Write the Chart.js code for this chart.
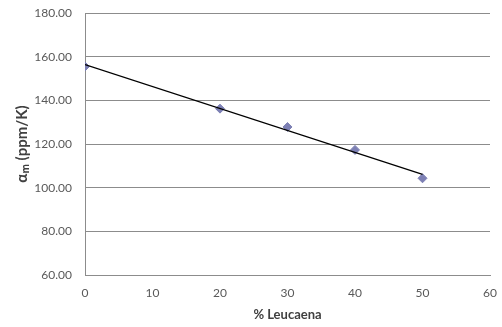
<!DOCTYPE html>
<html><head><meta charset="utf-8">
<script src="https://cdn.jsdelivr.net/npm/chart.js@4/dist/chart.umd.min.js"></script>
<style>html,body{margin:0;padding:0;background:#fff}#wrap{width:502px;height:327px}</style>
</head><body><div id="wrap"><canvas id="c" width="502" height="327"></canvas></div>
<script>
const leucaena = [0, 20, 30, 40, 50];
const alphaM = [155.5, 136.2, 127.8, 117.3, 104.3];
const yTicks = [60, 80, 100, 120, 140, 160, 180];
const xTicks = [0, 10, 20, 30, 40, 50, 60];

// linear trendline (least squares) from the data
const n = leucaena.length;
const mx = leucaena.reduce((a,b)=>a+b,0)/n;
const my = alphaM.reduce((a,b)=>a+b,0)/n;
let sxy=0, sxx=0;
for (let i=0;i<n;i++){ sxy+=(leucaena[i]-mx)*(alphaM[i]-my); sxx+=(leucaena[i]-mx)**2; }
const slope = sxy/sxx, icpt = my - slope*mx;
const xs0 = leucaena[0], xs1 = leucaena[n-1];
const trend = [{x:xs0,y:icpt+slope*xs0},{x:xs1,y:icpt+slope*xs1}];

const pts = leucaena.map((x,i)=>({x, y: alphaM[i]}));
const fam = 'Lato, "Open Sans", sans-serif';

new Chart(document.getElementById('c'), {
  type: 'scatter',
  data: { datasets: [
    { data: pts, pointStyle: 'rectRot', pointRadius: 4.5, pointHoverRadius: 4.5,
      backgroundColor: '#7d80b4', borderColor: '#7d80b4', borderWidth: 1, order: 1 },
    { type: 'line', data: trend, borderColor: '#000', borderWidth: 1.3, pointRadius: 0,
      fill: false, order: 0 }
  ]},
  options: {
    responsive: false, animation: false,
    layout: { padding: { left: 13, top: 13, right: 12, bottom: 4 } },
    plugins: { legend: { display: false }, tooltip: { enabled: false } },
    scales: {
      x: {
        type: 'linear', min: 0, max: 60,
        afterBuildTicks: a => { a.ticks = xTicks.map(v=>({value:v})); },
        afterFit: a => { a.height = 48; a.paddingLeft = 0; a.paddingRight = 0; },
        grid: { display: false, drawTicks: false },
        border: { display: true, color: '#8c8c8c', width: 1 },
        ticks: { padding: 11, color: '#595959', font: { family: fam, size: 12 } },
        title: { display: true, text: '% Leucaena', color: '#404040', font: { family: fam, size: 13, weight: 'bold' }, padding: 0 }
      },
      y: {
        type: 'linear', min: 60, max: 180,
        afterBuildTicks: a => { a.ticks = yTicks.map(v=>({value:v})); },
        afterFit: a => { a.width = 72; a.paddingTop = 0; a.paddingBottom = 0; },
        grid: { color: '#8c8c8c', lineWidth: 1, drawTicks: false },
        border: { display: true, color: '#8c8c8c', width: 1 },
        ticks: { padding: 13, color: '#595959', font: { family: fam, size: 12 }, callback: v => v.toFixed(2) },
        title: { display: true, text: 'αₘ (ppm/K)', color: '#404040', font: { family: fam, size: 15, weight: 'bold' }, padding: 0 }
      }
    }
  }
});
</script></body></html>
